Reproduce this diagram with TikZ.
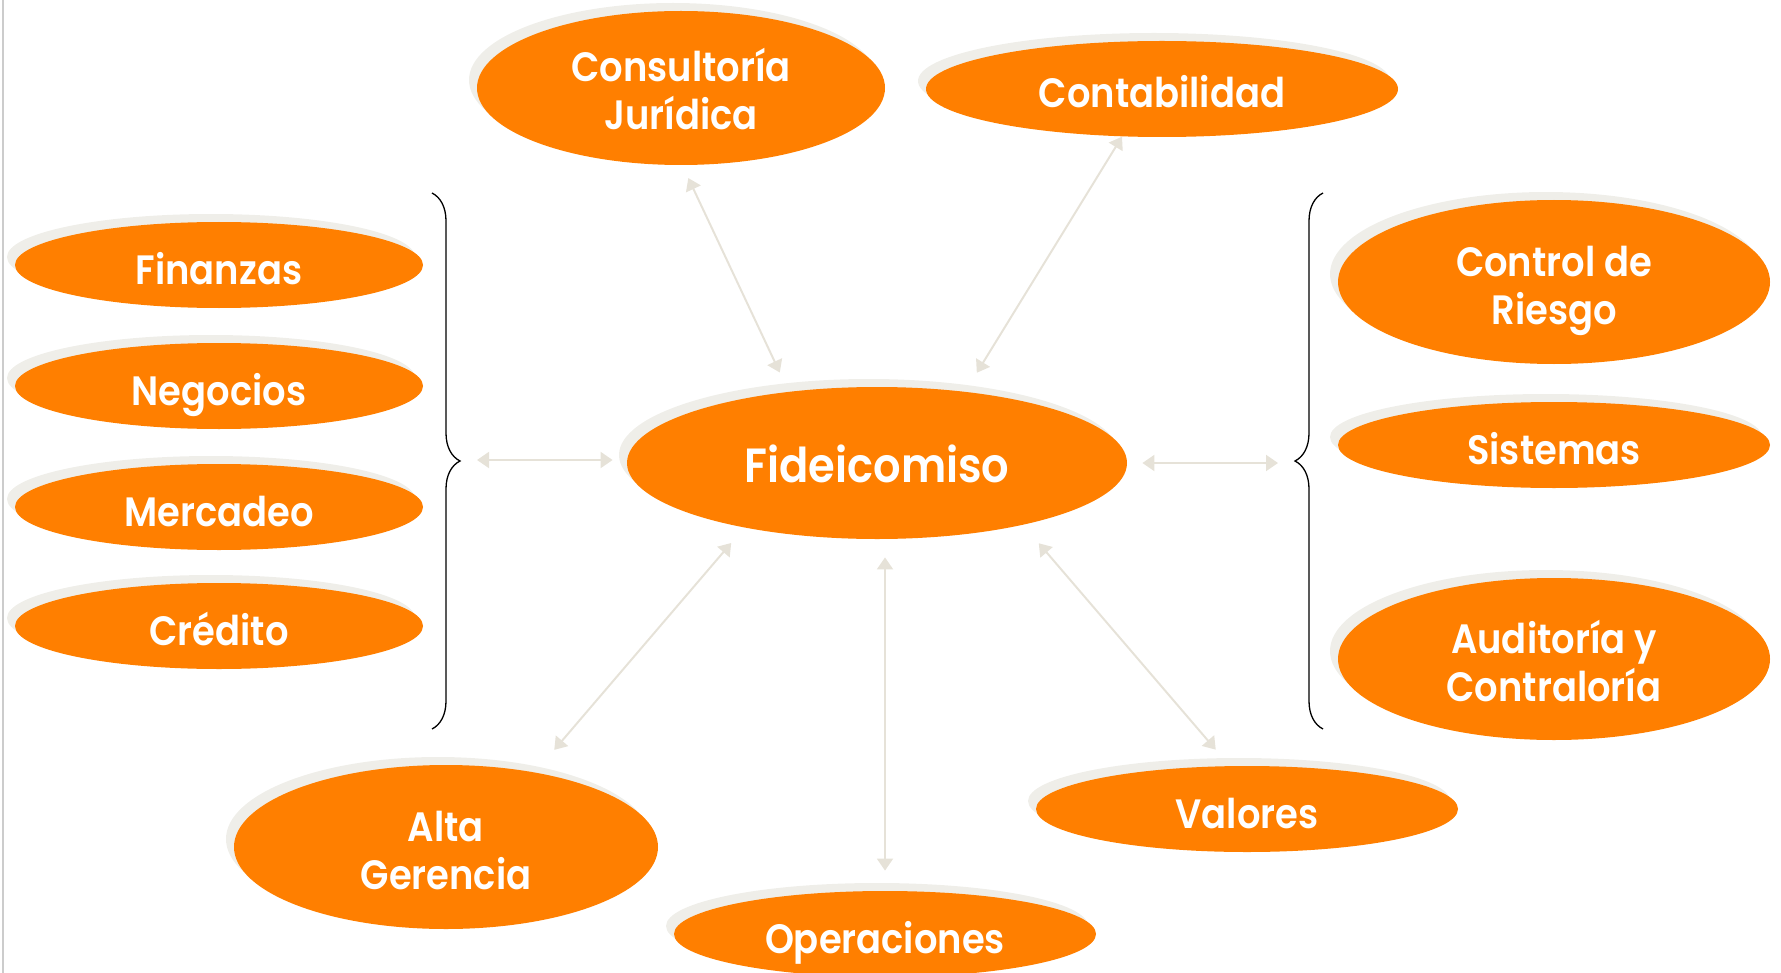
\documentclass[tikz,border=0pt]{standalone}
\usepackage{fontspec}
\setmainfont{Poppins}[BoldFont={* SemiBold}, BoldFeatures={FakeStretch=0.9}]
\usetikzlibrary{shapes.geometric,shadows,arrows.meta,decorations.pathreplacing}
\definecolor{naranja}{HTML}{FF7F00}
\definecolor{sombra}{HTML}{EFEEE9}
\definecolor{flecha}{HTML}{E6E2D8}
\tikzset{
  area/.style={ellipse, fill=naranja, text=white, inner sep=0pt, align=center,
    font=\bfseries\fontsize{20.5}{24}\selectfont, text height=19pt, text depth=0pt,
    drop shadow={shadow xshift=-4pt, shadow yshift=4pt, fill=sombra, opacity=1}},
  doble/.style={text height=42pt, text depth=0pt},
  enlace/.style={draw=flecha, line width=1pt,
    {Triangle[length=6pt,width=8pt]}-{Triangle[length=6pt,width=8pt]}},
  llave/.style={decorate, decoration={brace, amplitude=14pt}, line width=.65pt}
}
\begin{document}
\begin{tikzpicture}[x=.5pt,y=-.5pt]
\useasboundingbox (0,0) rectangle (1781,973);
\draw[gray!40, line width=1pt] (3,0)--(3,973);

\node[area, font=\bfseries\fontsize{24}{28}\selectfont, minimum width=250pt, minimum height=76pt] (fid) at (877,463) {Fideicomiso};
\node[area, doble, minimum width=204pt, minimum height=77pt] (juridica) at (681,88) {Consultoría\\Jurídica};
\node[area, minimum width=236pt, minimum height=48pt] (contab) at (1162,89) {Contabilidad};
\foreach \nombre/\y/\texto in {finanzas/265/Finanzas, negocios/386/Negocios, mercadeo/507/Mercadeo, credito/626/Crédito}
  \node[area, minimum width=204pt, minimum height=43pt] (\nombre) at (219,\y) {\texto};
\node[area, doble, minimum width=216pt, minimum height=82pt] (riesgo) at (1554,282) {Control de\\Riesgo};
\node[area, minimum width=216pt, minimum height=43pt] (sistemas) at (1554,445) {Sistemas};
\node[area, doble, minimum width=216pt, minimum height=81pt] (auditoria) at (1554,659) {Auditoría y\\Contraloría};
\node[area, doble, minimum width=212pt, minimum height=82pt] (alta) at (446,847) {Alta\\Gerencia};
\node[area, minimum width=211pt, minimum height=43pt] (valores) at (1247,809) {Valores};
\node[area, minimum width=211pt, minimum height=43pt] (oper) at (885,934) {Operaciones};

% llaves
\draw[llave] (432,193) -- (432,729);
\draw[llave] (1323,729) -- (1323,193);
\coordinate (lbrace) at (460,460);
\coordinate (rbrace) at (1295,463);

\draw[enlace, shorten <=8.5pt, shorten >=7pt] (lbrace) -- (lbrace -| fid.west);
\draw[enlace, shorten <=7.5pt, shorten >=8.5pt] (fid.east) -- (rbrace);
\draw[enlace, shorten <=7pt, shorten >=10.5pt] (juridica.271) -- (fid.141);
\draw[enlace, shorten >=11pt] (contab.230) -- (fid.39);
\draw[enlace, shorten <=14.7pt, shorten >=10pt] (alta.40) -- (fid.206);
\draw[enlace, shorten <=9pt, shorten >=10pt] (oper.north |- fid.south) -- (oper.north);
\draw[enlace, shorten <=12pt, shorten >=10.6pt] (fid.337) -- (valores.112);
\end{tikzpicture}
\end{document}
